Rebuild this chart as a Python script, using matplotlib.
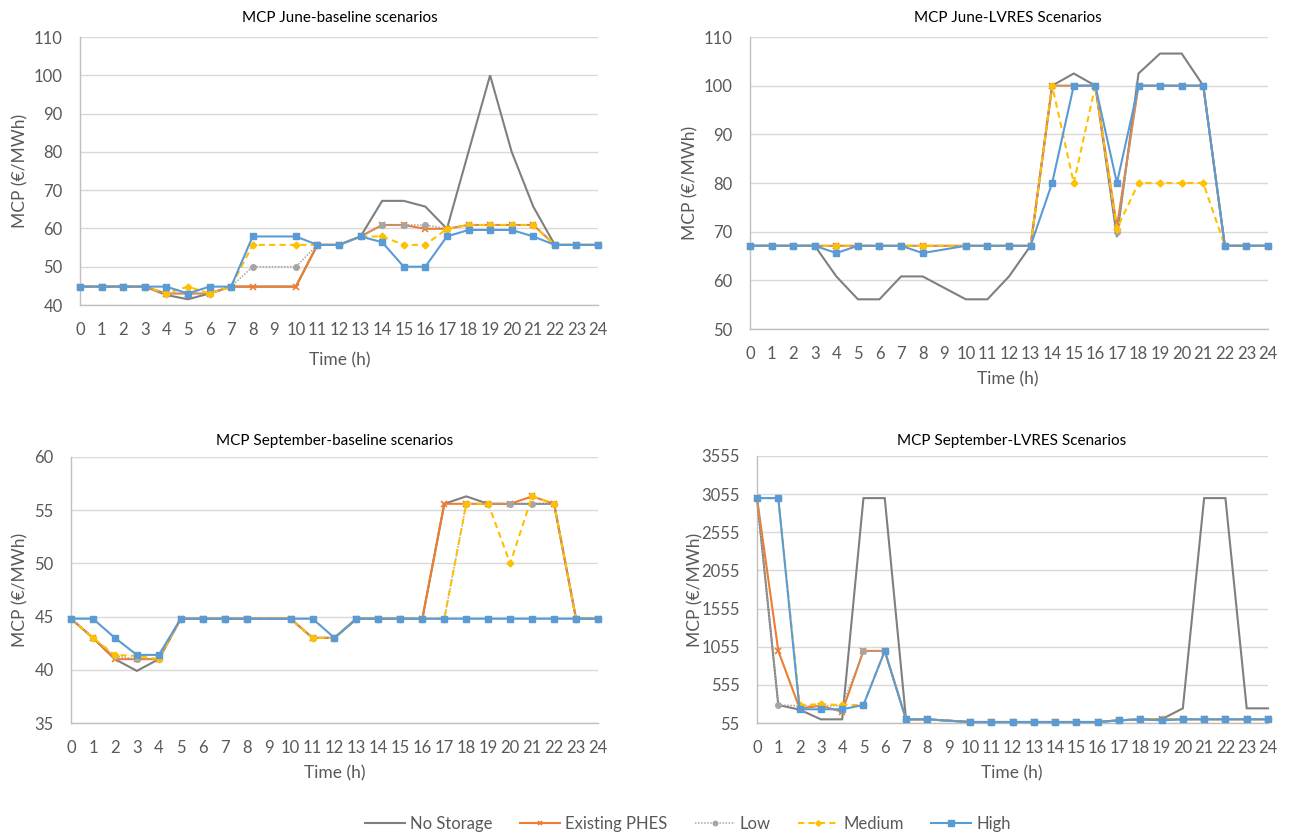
import matplotlib
matplotlib.use("Agg")
import matplotlib.pyplot as plt
from matplotlib.lines import Line2D

plt.rcParams['font.family'] = ['Lato', 'DejaVu Sans']

# ---------------- data ----------------
hours = [0, 1, 2, 3, 4, 5, 6, 7, 8, 10, 11, 12, 13, 14, 15, 16, 17, 18, 19, 20, 21, 22, 23, 24]
tick_hours = list(range(25))
series_names = ["No Storage", "Existing PHES", "Low", "Medium", "High"]

# MCP June-baseline scenarios
jb_no_storage = [44.8, 44.8, 44.8, 44.8, 42.6, 41.5, 43, 44.8, 44.8, 44.8, 55.7, 55.7, 57.9, 67.2, 67.2, 65.7, 59.9, 80, 100, 80, 65.7, 55.7, 55.7, 55.7]
jb_existing = [44.8, 44.8, 44.8, 44.8, 43, 43, 43, 44.8, 44.8, 44.8, 55.7, 55.7, 57.9, 60.9, 60.9, 59.9, 59.9, 60.9, 60.9, 60.9, 60.9, 55.7, 55.7, 55.7]
jb_low = [44.8, 44.8, 44.8, 44.8, 43, 43, 43, 44.8, 50, 50, 55.7, 55.7, 57.9, 60.9, 60.9, 60.9, 59.9, 60.9, 60.9, 60.9, 60.9, 55.7, 55.7, 55.7]
jb_medium = [44.8, 44.8, 44.8, 44.8, 43, 44.8, 43, 44.8, 55.7, 55.7, 55.7, 55.7, 57.9, 57.9, 55.7, 55.7, 59.9, 60.9, 60.9, 60.9, 60.9, 55.7, 55.7, 55.7]
jb_high = [44.8, 44.8, 44.8, 44.8, 44.8, 43, 44.8, 44.8, 57.9, 57.9, 55.7, 55.7, 57.9, 56.4, 50, 50, 57.9, 59.6, 59.6, 59.6, 57.9, 55.7, 55.7, 55.7]

# MCP June-LVRES Scenarios
jl_no_storage = [67.1, 67.1, 67.1, 67.1, 60.8, 56.1, 56.1, 60.8, 60.8, 56.1, 56.1, 60.8, 67.1, 100, 102.5, 100, 68.9, 102.5, 106.6, 106.6, 100, 67.1, 67.1, 67.1]
jl_existing = [67.1, 67.1, 67.1, 67.1, 67.1, 67.1, 67.1, 67.1, 67.1, 67.1, 67.1, 67.1, 67.1, 100, 100, 100, 71, 100, 100, 100, 100, 67.1, 67.1, 67.1]
jl_low = [67.1, 67.1, 67.1, 67.1, 67.1, 67.1, 67.1, 67.1, 67.1, 67.1, 67.1, 67.1, 67.1, 100, 100, 100, 70, 100, 100, 100, 100, 67.1, 67.1, 67.1]
jl_medium = [67.1, 67.1, 67.1, 67.1, 67.1, 67.1, 67.1, 67.1, 67.1, 67.1, 67.1, 67.1, 67.1, 100, 80, 100, 70.6, 80, 80, 80, 80, 67.1, 67.1, 67.1]
jl_high = [67.1, 67.1, 67.1, 67.1, 65.6, 67.1, 67.1, 67.1, 65.6, 67.1, 67.1, 67.1, 67.1, 80, 100, 100, 80, 100, 100, 100, 100, 67.1, 67.1, 67.1]

# MCP September-baseline scenarios
sb_no_storage = [44.8, 43, 41, 39.9, 41, 44.8, 44.8, 44.8, 44.8, 44.8, 43, 43, 44.8, 44.8, 44.8, 44.8, 55.6, 56.3, 55.6, 55.6, 55.6, 55.6, 44.8, 44.8]
sb_existing = [44.8, 43, 41, 41, 41, 44.8, 44.8, 44.8, 44.8, 44.8, 43, 43, 44.8, 44.8, 44.8, 44.8, 55.6, 55.6, 55.6, 55.6, 56.3, 55.6, 44.8, 44.8]
sb_low = [44.8, 43, 41.3, 41, 41, 44.8, 44.8, 44.8, 44.8, 44.8, 43, 43, 44.8, 44.8, 44.8, 44.8, 44.8, 55.6, 55.6, 55.6, 55.6, 55.6, 44.8, 44.8]
sb_medium = [44.8, 43, 41.4, 41.3, 41, 44.8, 44.8, 44.8, 44.8, 44.8, 43, 43, 44.8, 44.8, 44.8, 44.8, 44.8, 55.6, 55.6, 50, 56.3, 55.6, 44.8, 44.8]
sb_high = [44.8, 44.8, 43, 41.4, 41.4, 44.8, 44.8, 44.8, 44.8, 44.8, 44.8, 43, 44.8, 44.8, 44.8, 44.8, 44.8, 44.8, 44.8, 44.8, 44.8, 44.8, 44.8, 44.8]

# MCP September-LVRES Scenarios
sl_no_storage = [3003, 291, 230, 103, 103, 3003, 3003, 103, 103, 68, 68, 68, 68, 68, 68, 68, 90, 103, 103, 247, 3003, 3003, 247, 247]
sl_existing = [3003, 1000, 247, 280, 203, 1000, 1000, 103, 103, 68, 68, 68, 68, 68, 68, 68, 90, 103, 103, 103, 103, 103, 103, 103]
sl_low = [3003, 291, 280, 280, 280, 1000, 1000, 103, 103, 68, 68, 68, 68, 68, 68, 68, 90, 103, 103, 103, 103, 103, 103, 103]
sl_medium = [3003, 3003, 291, 300, 291, 291, 1000, 103, 103, 68, 68, 68, 68, 68, 68, 68, 90, 103, 103, 103, 103, 103, 103, 103]
sl_high = [3003, 3003, 235, 235, 235, 291, 1000, 103, 103, 68, 68, 68, 68, 68, 68, 68, 90, 103, 90, 103, 103, 103, 103, 103]

titles = ["MCP June-baseline scenarios", "MCP June-LVRES Scenarios",
          "MCP September-baseline scenarios", "MCP September-LVRES Scenarios"]
yticks_list = [list(range(40, 111, 10)), list(range(50, 111, 10)),
               list(range(35, 61, 5)), list(range(55, 3556, 500))]

# ---------------- style ----------------
W, H = 1295, 839
TXT = "#595959"
styles = [
    dict(color="#7F7F7F", lw=1.5, ls="-", marker=None),
    dict(color="#ED7D31", lw=1.5, ls="-", marker="x", ms=4, mew=1.2),
    dict(color="#A5A5A5", lw=1.1, ls=(0, (1, 1)), marker="o", ms=4),
    dict(color="#FFC000", lw=1.5, ls=(0, (3, 2)), marker="D", ms=3.5),
    dict(color="#5B9BD5", lw=1.5, ls="-", marker="s", ms=5),
]

fig = plt.figure(figsize=(W / 100, H / 100), dpi=100)

# axes boxes in pixels: left, right, top, bottom
boxes = [(80, 598, 37, 305), (750, 1268, 37, 329), (71, 598, 457, 723), (757, 1268, 456, 723)]
title_pos = [(340, 18), (1008, 18), (335, 441), (1012, 441)]
ylab_pos = [(20, 171), (690, 183), (20, 590), (695, 590)]
xlab_pos = [(340, 360), (1008, 379), (335, 773), (1012, 773)]

data = [
    [jb_no_storage, jb_existing, jb_low, jb_medium, jb_high],
    [jl_no_storage, jl_existing, jl_low, jl_medium, jl_high],
    [sb_no_storage, sb_existing, sb_low, sb_medium, sb_high],
    [sl_no_storage, sl_existing, sl_low, sl_medium, sl_high],
]

for i in range(4):
    l, r, t, b = boxes[i]
    ax = fig.add_axes([l / W, 1 - b / H, (r - l) / W, (b - t) / H])
    for s, vals in enumerate(data[i]):
        st = styles[s]
        ax.plot(hours, vals, color=st["color"], lw=st["lw"], ls=st["ls"],
                marker=st["marker"], ms=st.get("ms", 0), mew=st.get("mew", 1),
                mec=st["color"], mfc=st["color"], clip_on=False, zorder=3 + s,
                solid_joinstyle="miter")
    yt = yticks_list[i]
    ax.set_xlim(0, 24)
    ax.set_ylim(yt[0], yt[-1])
    ax.set_yticks(yt)
    ax.set_xticks(tick_hours)
    ax.set_xticklabels([str(h) for h in tick_hours])
    ax.grid(axis="y", color="#D9D9D9", lw=1)
    ax.set_axisbelow(True)
    for sp in ["top", "right"]:
        ax.spines[sp].set_visible(False)
    for sp in ["left", "bottom"]:
        ax.spines[sp].set_color("#BFBFBF")
        ax.spines[sp].set_linewidth(1)
    ax.tick_params(length=0, labelsize=12, labelcolor=TXT)
    ax.tick_params(axis="y", pad=12.5)
    ax.tick_params(axis="x", pad=12.5)
    fig.text(title_pos[i][0] / W, 1 - title_pos[i][1] / H, titles[i], ha="center", va="center",
             fontsize=11, color="#000000")
    fig.text(ylab_pos[i][0] / W, 1 - ylab_pos[i][1] / H, "MCP (€/MWh)", ha="center", va="center",
             rotation=90, fontsize=12.5, color=TXT)
    fig.text(xlab_pos[i][0] / W, 1 - xlab_pos[i][1] / H, "Time (h)", ha="center", va="center",
             fontsize=12.5, color=TXT)

handles = []
for s, name in enumerate(series_names):
    st = styles[s]
    handles.append(Line2D([], [], color=st["color"], lw=st["lw"], ls=st["ls"],
                          marker=st["marker"], ms=st.get("ms", 0) * 0.8, mew=st.get("mew", 1),
                          mec=st["color"], mfc=st["color"], label=name))
fig.legend(handles=handles, loc="center", bbox_to_anchor=(688 / W, 1 - 824 / H), ncol=5,
           frameon=False, fontsize=12, handlelength=2.4, columnspacing=1.65, handletextpad=0.3,
           labelcolor=TXT)

fig.savefig("out.png", dpi=100)
